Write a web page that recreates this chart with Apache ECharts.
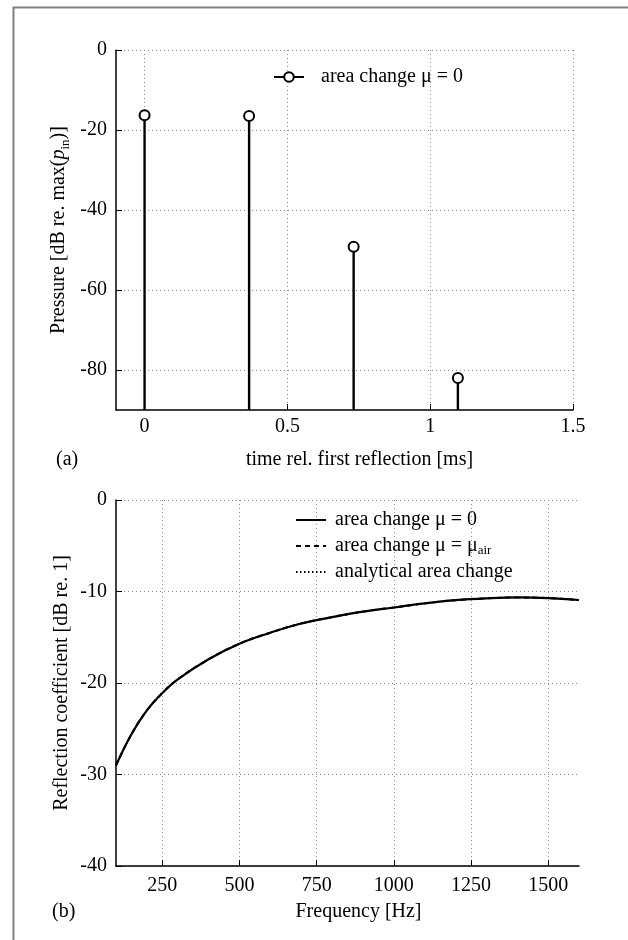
<!DOCTYPE html>
<html>
<head>
<meta charset="utf-8">
<script src="https://cdn.jsdelivr.net/npm/echarts@6/dist/echarts.min.js"></script>
<style>
  html, body { margin: 0; padding: 0; background: #fff; }
  #chart { width: 628px; height: 940px; }
</style>
</head>
<body>
<div id="chart"></div>
<script>
// (a) reflections: time [ms] and level [dB]
const stemTimes = [0, 0.366, 0.732, 1.097]
const stemLevels = [-16.3, -16.5, -49.2, -82]
const timeTicks = [0, 0.5, 1, 1.5]
const levelTicks = [-80, -60, -40, -20, 0]

// (b) reflection coefficient vs frequency
const freqs = [100, 150, 200, 250, 300, 400, 500, 600, 700, 800, 900, 1000, 1100, 1200, 1300, 1400, 1500, 1600]
const muZero = [-29, -25.6, -23.0, -21.1, -19.6, -17.4, -15.7, -14.5, -13.5, -12.8, -12.2, -11.75, -11.3, -10.95, -10.75, -10.65, -10.72, -10.93]
// the three curves lie on top of each other in the picture
const muAir = muZero.slice()
const analytical = muZero.slice()
const freqTicks = [250, 500, 750, 1000, 1250, 1500]

const FONT = 'Liberation Serif'
const FS = 20
const chart = echarts.init(document.getElementById('chart'))

const gridLine = { show: true, lineStyle: { color: '#8a8a8a', type: [1, 3], width: 1 } }
const axisLine = { show: true, onZero: false, lineStyle: { color: '#000', width: 1.5 } }
const tick = { show: true, inside: true, length: 6, lineStyle: { color: '#000', width: 1 } }
const label = { color: '#000', fontFamily: FONT, fontSize: FS, formatter: v => String(v) }
const rich = {
  i: { fontStyle: 'italic', fontFamily: FONT, fontSize: FS, color: '#000' },
  sub: { fontFamily: FONT, fontSize: 13, color: '#000', verticalAlign: 'bottom', lineHeight: 26 }
}
const nameStyle = { color: '#000', fontFamily: FONT, fontSize: FS, rich: rich }

const yMinA = -90

const option = {
  animation: false,
  backgroundColor: '#fff',
  textStyle: { fontFamily: FONT },
  graphic: [
    { type: 'rect', left: 11, top: 5, shape: { width: 700, height: 1000 },
      style: { fill: 'none', stroke: '#808080', lineWidth: 2 } },
    { type: 'text', left: 56, top: 450, style: { text: '(a)', font: FS + 'px "Liberation Serif"', fill: '#000' } },
    { type: 'text', left: 52, top: 902, style: { text: '(b)', font: FS + 'px "Liberation Serif"', fill: '#000' } }
  ],
  legend: [
    {
      data: ['stems'],
      left: 268, top: 62,
      itemWidth: 30, itemHeight: 12,
      formatter: () => 'area change μ = 0',
      lineStyle: { color: '#000', width: 2, opacity: 1 },
      textStyle: { color: '#000', fontFamily: FONT, fontSize: FS, padding: [0, 0, 0, 12] }
    },
    {
      data: ['area change μ = 0', 'area change μ = μair', 'analytical area change'],
      orient: 'vertical',
      left: 290, top: 505,
      itemWidth: 30, itemHeight: 20, itemGap: 5,
      itemStyle: { opacity: 0 },
      formatter: function (n) {
        return n === 'area change μ = μair' ? 'area change μ = μ{sub|air}' : n
      },
      textStyle: {
        color: '#000', fontFamily: FONT, fontSize: FS, lineHeight: 20, padding: [0, 0, 0, 4],
        rich: { sub: { fontFamily: FONT, fontSize: 13, color: '#000', verticalAlign: 'bottom', lineHeight: 22 } }
      }
    }
  ],
  grid: [
    { left: 116, top: 50, width: 457, height: 360 },
    { left: 116, top: 500, width: 463, height: 366 }
  ],
  xAxis: [
    {
      gridIndex: 0, type: 'value', min: -0.1, max: 1.5,
      name: 'time rel. first reflection [ms]', nameLocation: 'middle', nameGap: 40,
      nameMoveOverlap: false,
      nameTextStyle: Object.assign({ padding: [0, 0, 0, 30] }, nameStyle),
      axisLine: axisLine,
      axisTick: Object.assign({ customValues: timeTicks }, tick),
      axisLabel: Object.assign({}, label, { customValues: timeTicks, margin: 7 }),
      splitLine: gridLine
    },
    {
      gridIndex: 1, type: 'value', min: 100, max: 1600,
      name: 'Frequency [Hz]', nameLocation: 'middle', nameGap: 36,
      nameMoveOverlap: false,
      nameTextStyle: Object.assign({ padding: [0, 0, 0, 22] }, nameStyle),
      axisLine: axisLine,
      axisTick: Object.assign({ customValues: freqTicks }, tick),
      axisLabel: Object.assign({}, label, { customValues: freqTicks, margin: 10 }),
      splitLine: gridLine
    }
  ],
  yAxis: [
    {
      gridIndex: 0, type: 'value', min: yMinA, max: 0, interval: 10,
      name: 'Pressure [dB re. max({i|p}{sub|in})]', nameLocation: 'middle', nameGap: 44,
      nameMoveOverlap: false,
      nameTextStyle: nameStyle,
      axisLine: axisLine,
      axisTick: Object.assign({ customValues: levelTicks }, tick),
      axisLabel: Object.assign({}, label, { customValues: levelTicks, margin: 9 }),
      splitLine: gridLine
    },
    {
      gridIndex: 1, type: 'value', min: -40, max: 0, interval: 10,
      name: 'Reflection coefficient [dB re. 1]', nameLocation: 'middle', nameGap: 44,
      nameMoveOverlap: false,
      nameTextStyle: nameStyle,
      axisLine: axisLine,
      axisTick: tick,
      axisLabel: Object.assign({}, label, { margin: 9 }),
      splitLine: gridLine
    }
  ],
  series: [
    {
      name: 'stems', type: 'line', xAxisIndex: 0, yAxisIndex: 0,
      data: stemTimes.map((t, i) => [t, stemLevels[i]]),
      symbol: 'emptyCircle', symbolSize: 10, showSymbol: true,
      itemStyle: { color: '#000', borderColor: '#000', borderWidth: 2 },
      lineStyle: { color: '#000', opacity: 0 },
      z: 4
    },
    {
      type: 'custom', xAxisIndex: 0, yAxisIndex: 0,
      data: stemTimes.map((t, i) => [t, stemLevels[i]]),
      renderItem: function (params, api) {
        const top = api.coord([api.value(0), api.value(1)])
        const bot = api.coord([api.value(0), yMinA])
        return {
          type: 'line',
          shape: { x1: top[0], y1: top[1] + 5, x2: bot[0], y2: bot[1] },
          style: { stroke: '#000', lineWidth: 2.4 }
        }
      },
      z: 3
    },
    {
      name: 'area change μ = 0', type: 'line', xAxisIndex: 1, yAxisIndex: 1,
      data: freqs.map((f, i) => [f, muZero[i]]),
      smooth: 0.4, symbol: 'none',
      lineStyle: { color: '#000', width: 2.2, type: 'solid' },
      itemStyle: { color: '#000' }
    },
    {
      name: 'area change μ = μair', type: 'line', xAxisIndex: 1, yAxisIndex: 1,
      data: freqs.map((f, i) => [f, muAir[i]]),
      smooth: 0.4, symbol: 'none',
      lineStyle: { color: '#000', width: 2, type: [5, 4] },
      itemStyle: { color: '#000' }
    },
    {
      name: 'analytical area change', type: 'line', xAxisIndex: 1, yAxisIndex: 1,
      data: freqs.map((f, i) => [f, analytical[i]]),
      smooth: 0.4, symbol: 'none',
      lineStyle: { color: '#000', width: 1.5, type: [1.5, 2.5] },
      itemStyle: { color: '#000' }
    }
  ]
}

chart.setOption(option)
</script>
</body>
</html>
